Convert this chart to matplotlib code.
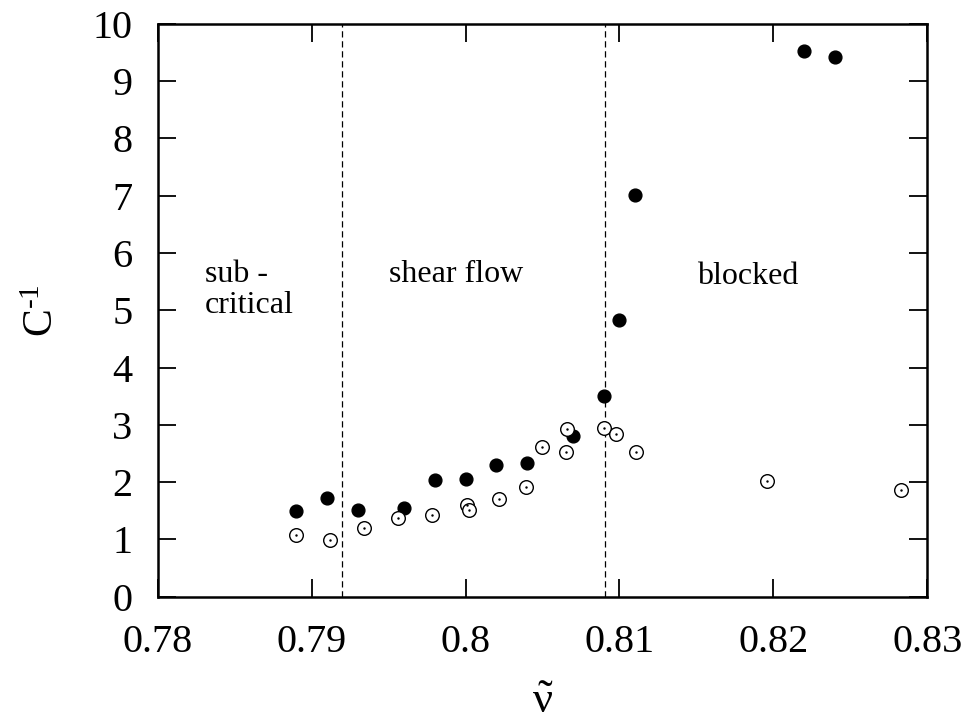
import matplotlib
matplotlib.use('Agg')
import matplotlib.pyplot as plt
from matplotlib.ticker import FuncFormatter

plt.rcParams['font.family'] = ['Liberation Serif', 'DejaVu Serif']
plt.rcParams['mathtext.fontset'] = 'custom'
plt.rcParams['mathtext.rm'] = 'Liberation Serif'
plt.rcParams['mathtext.it'] = 'Liberation Serif:italic'

# Filled symbols
nu_filled = [0.7890, 0.7910, 0.7930, 0.7960, 0.7980, 0.8000, 0.8020, 0.8040,
             0.8070, 0.8090, 0.8100, 0.8110, 0.8220, 0.8240]
cinv_filled = [1.50, 1.72, 1.52, 1.54, 2.04, 2.06, 2.30, 2.33,
               2.80, 3.51, 4.83, 7.02, 9.52, 9.43]

# Open symbols
nu_open = [0.7890, 0.7912, 0.7934, 0.7956, 0.7978, 0.8001, 0.8002, 0.8022,
           0.8039, 0.8050, 0.8065, 0.8066, 0.8090, 0.8098, 0.8111, 0.8196, 0.8283]
cinv_open = [1.07, 0.99, 1.19, 1.38, 1.43, 1.60, 1.52, 1.71,
             1.92, 2.61, 2.53, 2.93, 2.95, 2.84, 2.53, 2.02, 1.86]

# Regime boundaries
boundaries = [0.7920, 0.80905]

fig, ax = plt.subplots(figsize=(9.67, 7.24), dpi=100)
fig.subplots_adjust(left=0.163, right=0.959, bottom=0.176, top=0.967)

for xb in boundaries:
    ax.axvline(xb, color='black', lw=0.9, dashes=(5, 3))

ax.plot(nu_filled, cinv_filled, 'o', color='black', markersize=9.2, zorder=3)
ax.plot(nu_open, cinv_open, 'o', markerfacecolor='white', markeredgecolor='black',
        markeredgewidth=1.0, markersize=9.8, zorder=3)
ax.plot(nu_open, cinv_open, '.', color='black', markersize=1.5, zorder=4)

ax.text(0.78306, 5.5, 'sub -', fontsize=23, ha='left', va='baseline')
ax.text(0.78306, 4.96, 'critical', fontsize=23, ha='left', va='baseline')
ax.text(0.79937, 5.5, 'shear flow', fontsize=23, ha='center', va='baseline')
ax.text(0.81836, 5.45, 'blocked', fontsize=23, ha='center', va='baseline')

ax.set_xlim(0.78, 0.83)
ax.set_ylim(0, 10)
ax.set_xticks([0.78, 0.79, 0.80, 0.81, 0.82, 0.83])
ax.set_yticks(range(0, 11))
ax.xaxis.set_major_formatter(FuncFormatter(lambda v, p: '%g' % round(v, 3)))

ax.tick_params(direction='in', length=13, width=1.3, labelsize=29,
               top=True, right=True)
ax.tick_params(axis='x', pad=20)
ax.tick_params(axis='y', pad=18)
for s in ax.spines.values():
    s.set_linewidth(1.8)

ax.set_xlabel(r'$\tilde{\mathrm{ν}}$', fontsize=32, labelpad=15)
ax.set_ylabel(r'C$^{\mathrm{\text{-1}}}$', fontsize=30, labelpad=22)

fig.savefig('out.png', dpi=100)
